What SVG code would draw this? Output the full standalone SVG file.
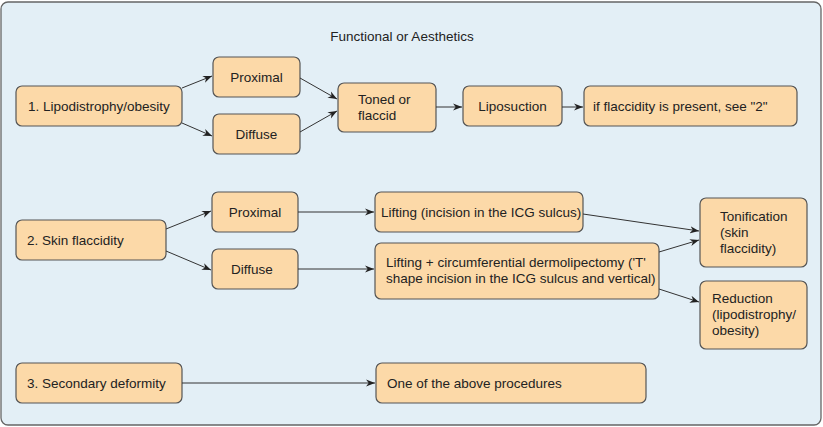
<svg xmlns="http://www.w3.org/2000/svg" width="823" height="427" viewBox="0 0 823 427">
<defs>
<marker id="ah" viewBox="0 0 10 10" refX="10" refY="5" markerWidth="9" markerHeight="9" markerUnits="userSpaceOnUse" orient="auto">
<path d="M0,1 L10,5 L0,9 L3,5 Z" fill="#222"/>
</marker>
<style>
.n rect{fill:#fcd9a8;stroke:#555;stroke-width:1.2}
text{font-family:"Liberation Sans",Arial,sans-serif;font-size:13.5px;fill:#222}
.c{text-anchor:middle}
#edges line{stroke:#333;stroke-width:1;marker-end:url(#ah)}
</style>
</defs>
<rect x="1" y="2" width="820" height="423" rx="7" fill="#e3eff6" stroke="#666" stroke-width="1.3"/>
<text x="402" y="41" class="c">Functional or Aesthetics</text>

<g id="n1" class="n"><rect x="16" y="86" width="166" height="40" rx="6"/><text x="28" y="111">1. Lipodistrophy/obesity</text></g>
<g id="n1p" class="n"><rect x="213" y="57" width="87" height="40" rx="6"/><text x="256.5" y="82" class="c">Proximal</text></g>
<g id="n1d" class="n"><rect x="213" y="114" width="87" height="40" rx="6"/><text x="256.5" y="139" class="c">Diffuse</text></g>
<g id="n1t" class="n"><rect x="338" y="83" width="98" height="49" rx="6"/><text x="358" y="104">Toned or</text><text x="358" y="120">flaccid</text></g>
<g id="n1l" class="n"><rect x="463" y="86" width="99" height="40" rx="6"/><text x="512.5" y="111" class="c">Liposuction</text></g>
<g id="n1f" class="n"><rect x="584" y="86" width="213" height="40" rx="6"/><text x="593" y="111">if flaccidity is present, see "2"</text></g>

<g id="n2" class="n"><rect x="16" y="220" width="150" height="40" rx="6"/><text x="27" y="245">2. Skin flaccidity</text></g>
<g id="n2p" class="n"><rect x="212" y="192" width="86" height="40" rx="6"/><text x="255" y="217" class="c">Proximal</text></g>
<g id="n2d" class="n"><rect x="212" y="249" width="86" height="40" rx="6"/><text x="252" y="274" class="c">Diffuse</text></g>
<g id="n2l" class="n"><rect x="375" y="192" width="208" height="40" rx="6"/><text x="381" y="217">Lifting (incision in the ICG sulcus)</text></g>
<g id="n2c" class="n"><rect x="375" y="243" width="284" height="56" rx="6"/><text x="386" y="267">Lifting + circumferential dermolipectomy ('T'</text><text x="386" y="283">shape incision in the ICG sulcus and vertical)</text></g>
<g id="n2t" class="n"><rect x="700" y="198" width="107" height="69" rx="6"/><text x="720" y="221">Tonification</text><text x="720" y="237">(skin</text><text x="720" y="253">flaccidity)</text></g>
<g id="n2r" class="n"><rect x="700" y="281" width="107" height="68" rx="6"/><text x="712" y="303">Reduction</text><text x="712" y="319">(lipodistrophy/</text><text x="712" y="335">obesity)</text></g>

<g id="n3" class="n"><rect x="16" y="363" width="166" height="40" rx="6"/><text x="27" y="388">3. Secondary deformity</text></g>
<g id="n3o" class="n"><rect x="376" y="363" width="270" height="40" rx="6"/><text x="387" y="388">One of the above procedures</text></g>

<g id="edges">
<line x1="182" y1="88" x2="212" y2="76"/>
<line x1="182" y1="123" x2="212" y2="136"/>
<line x1="300" y1="78" x2="337" y2="99"/>
<line x1="300" y1="132" x2="337" y2="111"/>
<line x1="436" y1="107" x2="462" y2="107"/>
<line x1="562" y1="107" x2="583" y2="107"/>
<line x1="166" y1="229" x2="211" y2="211"/>
<line x1="166" y1="251" x2="211" y2="270"/>
<line x1="298" y1="212" x2="374" y2="212"/>
<line x1="298" y1="269" x2="374" y2="269"/>
<line x1="583" y1="214" x2="699" y2="231"/>
<line x1="659" y1="252" x2="699" y2="240"/>
<line x1="659" y1="289" x2="699" y2="302"/>
<line x1="182" y1="383" x2="375" y2="383"/>
</g>
</svg>
